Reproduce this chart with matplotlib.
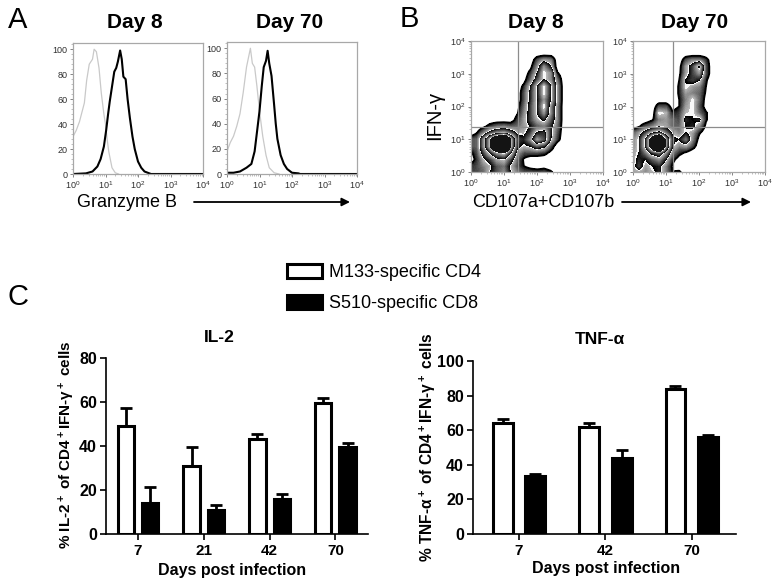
import numpy as np
import matplotlib
matplotlib.use('Agg')
import matplotlib.pyplot as plt
from matplotlib.ticker import MultipleLocator, LogLocator, NullFormatter

plt.rcParams['font.family'] = ['Liberation Sans', 'DejaVu Sans']
plt.rcParams['mathtext.default'] = 'regular'

W, H = 779, 587

# panel A, histograms: log10 of fluorescence and % of max
a8_dark_x = [0, 0.4, 0.6, 0.75, 0.85, 0.95, 1.02, 1.08, 1.13, 1.2, 1.27, 1.33, 1.38, 1.45, 1.5, 1.55, 1.62, 1.68, 1.75, 1.83, 1.9, 2.0, 2.1, 2.2, 2.4, 4]
a8_dark_y = [0, 0.5, 2, 6, 12, 22, 35, 48, 58, 70, 82, 85, 90, 99, 92, 78, 76, 60, 45, 30, 20, 10, 5, 2, 0, 0]
a8_grey_x = [0, 0.1, 0.2, 0.3, 0.35, 0.42, 0.5, 0.6, 0.65, 0.72, 0.8, 0.87, 0.95, 1.0, 1.05, 1.1, 1.2, 1.3, 1.4]
a8_grey_y = [30, 35, 42, 52, 57, 75, 88, 92, 100, 98, 85, 65, 48, 40, 28, 18, 5, 1, 0]
a70_dark_x = [0, 0.2, 0.4, 0.6, 0.75, 0.85, 0.93, 1.0, 1.07, 1.13, 1.2, 1.25, 1.3, 1.37, 1.45, 1.5, 1.55, 1.65, 1.75, 1.85, 2.0, 2.2, 2.25, 4]
a70_dark_y = [1, 1, 2, 5, 8, 18, 35, 50, 70, 85, 90, 98, 88, 78, 55, 40, 28, 15, 8, 4, 1, 0.5, 0, 0]
a70_grey_x = [0, 0.1, 0.2, 0.3, 0.4, 0.5, 0.6, 0.72, 0.78, 0.85, 0.92, 1.0, 1.1, 1.2, 1.3, 1.45, 1.6]
a70_grey_y = [18, 25, 30, 38, 48, 65, 85, 100, 88, 85, 70, 50, 30, 15, 5, 1, 0]

# panel B, density read by eye on a 0.2 decade grid, top row is log10 y = 3.6
grid_x = [0, .2, .4, .6, .8, 1, 1.2, 1.4, 1.6, 1.8, 2, 2.2, 2.4, 2.6, 2.8]
grid_y = [3.6, 3.4, 3.2, 3, 2.8, 2.6, 2.4, 2.2, 2, 1.8, 1.6, 1.4, 1.2, 1, .8, .6, .4, .2, 0]
b8_density = [
    [0, 0, 0, 0, 0, 0, 0, 0, 0, 0, 0, 0, 0, 0, 0],
    [0, 0, 0, 0, 0, 0, 0, 0, 0, 0, 1, 1.6, 1.4, 0, 0],
    [0, 0, 0, 0, 0, 0, 0, 0, 0, .3, 1.5, 3, 2, 0, 0],
    [0, 0, 0, 0, 0, 0, 0, 0, 0, .8, 2, 3.5, 3, .6, 0],
    [0, 0, 0, 0, 0, 0, 0, 0, .2, 1.2, 2.5, 3.5, 3, 1.2, 0],
    [0, 0, 0, 0, 0, 0, 0, 0, .7, 2, 3.5, 5, 3.5, 1.6, 0],
    [0, 0, 0, 0, 0, 0, 0, 0, 1, 2.2, 3.5, 5, 3.5, 1.6, 0],
    [0, 0, 0, 0, 0, 0, 0, 0, 1, 2.2, 3.5, 4.5, 3.5, 1.6, 0],
    [0, 0, 0, 0, 0, 0, 0, .2, 1.2, 2.4, 3.5, 5, 3, 1.4, 0],
    [0, 0, 0, 0, 0, 0, 0, .4, 1.4, 2.4, 3.5, 4.5, 3, 1.4, 0],
    [0, 0, 0, 0, 0, 0, 0, .8, 1.6, 2.4, 3.2, 3.6, 2.6, 1.4, 0],
    [0, 0, .3, .8, 1.2, 1.3, 1.1, 1.2, 1.6, 2, 2.6, 2.8, 2.2, 1.2, 0],
    [0, .5, 1.4, 2.4, 3, 3.2, 2.6, 1.8, 1.8, 2.4, 3.6, 3.8, 2.2, 1, 0],
    [1, 1.2, 3, 5, 7, 8.5, 5, 2.4, 2.2, 3, 4.6, 4, 2, .8, 0],
    [1, 1.2, 3, 5, 7.5, 9, 5, 2.2, 1.8, 2, 2.6, 2.2, 1, 0, 0],
    [.3, 1, 2.4, 3.6, 4.6, 5, 3.6, 1.6, 1, 1, 1, .8, .3, 0, 0],
    [0, .8, 1.8, 2.4, 3.2, 3.4, 2.4, 1.2, .4, 0, 0, 0, 0, 0, 0],
    [.7, 1, 1.4, 1.8, 2.6, 2.8, 1.8, 1, .5, .2, 0, .2, 0, 0, 0],
    [1, 1, 1.2, 2, 2.6, 3, 2, 1.4, 1, 1, 1, 1, .7, 0, 0],
]
b70_density = [
    [0, 0, 0, 0, 0, 0, 0, 0, 0, 0, 0, 0, 0, 0, 0],
    [0, 0, 0, 0, 0, 0, 0, 0, 1, 1.4, 1.4, .8, 0, 0, 0],
    [0, 0, 0, 0, 0, 0, 0, .2, 1.6, 2.4, 3.6, 1, 0, 0, 0],
    [0, 0, 0, 0, 0, 0, 0, .3, 1.6, 2.4, 3, 1, 0, 0, 0],
    [0, 0, 0, 0, 0, 0, 0, .5, 2, 2.4, 2, .6, 0, 0, 0],
    [0, 0, 0, 0, 0, 0, 0, .6, 2, 1.6, 1.4, .5, 0, 0, 0],
    [0, 0, 0, 0, 0, 0, 0, .6, 1.6, 1.4, 1.2, .4, 0, 0, 0],
    [0, 0, 0, 0, 0, 0, 0, .5, 1.4, 2, 1.2, .2, 0, 0, 0],
    [0, 0, 0, 0, 1, 1, .2, .5, 1.6, 2, 1, .2, 0, 0, 0],
    [0, 0, 0, 0, 2, 1.8, .6, .9, 1.8, 2, 1.2, .6, 0, 0, 0],
    [0, 0, 0, .4, 1.4, 1.6, 1.2, 1, 2.2, 2, 2.2, .6, 0, 0, 0],
    [0, .4, 1, 1.4, 1.8, 1.7, 1.2, 1.2, 2, 2.2, 1.4, .3, 0, 0, 0],
    [1, 1.6, 2.4, 3.4, 3.8, 2.8, 1.8, 1.4, 2, 1.6, .6, 0, 0, 0, 0],
    [1.4, 2, 3.6, 6, 8, 4.6, 2.2, 2, 2.8, 1.4, .2, 0, 0, 0, 0],
    [1.4, 2, 3.6, 6, 8.5, 4.6, 2, 1.4, 1.6, .9, 0, 0, 0, 0, 0],
    [1.6, 2, 2.8, 3.8, 4.2, 3, 1.4, .7, .4, 0, 0, 0, 0, 0, 0],
    [1.6, 2.2, 2, 2.6, 3, 2, .7, .2, 0, 0, 0, 0, 0, 0, 0],
    [1.6, 2.4, 1.6, 2, 2.2, 1.4, .4, 0, 0, 0, 0, 0, 0, 0, 0],
    [1.6, 1.6, 1.4, 1.8, 2.2, 1.4, .5, .7, 0, 0, 0, 0, 0, 0, 0],
]
b8_gate = [26, 24]
b70_gate = [16.4, 24]

# panel C
il2_days = ['7', '21', '42', '70']
il2_cd4 = [49, 31, 43, 59.5]
il2_cd4_err = [8.5, 8.5, 2.5, 2.5]
il2_cd8 = [14, 11, 16, 39.5]
il2_cd8_err = [7.5, 2, 2, 2]
tnf_days = ['7', '42', '70']
tnf_cd4 = [64, 62, 84]
tnf_cd4_err = [2.5, 2, 1.5]
tnf_cd8 = [33.5, 44, 56]
tnf_cd8_err = [1, 4.5, 1.5]


def px_axes(fig, x0, y0, x1, y1):
    # axes from pixel box, y counted from the top of the picture
    return fig.add_axes([x0 / W, 1 - y1 / H, (x1 - x0) / W, (y1 - y0) / H])


def px_text(fig, x, y, s, **kw):
    kw.setdefault('ha', 'center')
    kw.setdefault('va', 'center')
    fig.text(x / W, 1 - y / H, s, **kw)


def px_arrow(fig, x0, x1, y):
    fig.add_artist(matplotlib.patches.FancyArrowPatch(
        (x0 / W, 1 - y / H), (x1 / W, 1 - y / H), transform=fig.transFigure,
        arrowstyle='-|>', mutation_scale=12, lw=1.3, color='black', shrinkA=0, shrinkB=0))


def style_flow(ax):
    for s in ax.spines.values():
        s.set_color('#a8a8a8')
        s.set_linewidth(0.9)
    ax.set_xscale('log')
    ax.set_xlim(1, 1e4)
    ax.xaxis.set_major_locator(LogLocator(base=10, numticks=6))
    ax.xaxis.set_minor_locator(LogLocator(base=10, subs=range(2, 10), numticks=6))
    ax.xaxis.set_minor_formatter(NullFormatter())
    ax.tick_params(which='major', labelsize=6.5, length=2.5, width=0.6, color='#707070', labelcolor='#303030', pad=1.5)
    ax.tick_params(which='minor', length=1.2, width=0.4, color='#909090')


def histogram(fig, box, dark_x, dark_y, grey_x, grey_y):
    ax = px_axes(fig, *box)
    style_flow(ax)
    ax.set_ylim(0, 105)
    ax.yaxis.set_major_locator(MultipleLocator(20))
    ax.yaxis.set_minor_locator(MultipleLocator(4))
    ax.plot(10 ** np.array(grey_x), grey_y, color='#c9c9c9', lw=0.9)
    ax.plot(10 ** np.array(dark_x), dark_y, color='black', lw=1.5)


def soften(density, n=5):
    # only rounds the corners of the hand read grid for drawing
    d = np.kron(np.array(density), np.ones((n, n)))
    kernel = np.ones(n) / n
    for axis in (0, 1):
        d = np.apply_along_axis(lambda r: np.convolve(np.pad(r, n, mode='edge'), kernel, mode='same')[n:-n], axis, d)
    return d


def zebra(fig, box, density, gate):
    ax = px_axes(fig, *box)
    style_flow(ax)
    ax.set_yscale('log')
    ax.set_ylim(1, 1e4)
    ax.yaxis.set_major_locator(LogLocator(base=10, numticks=6))
    ax.yaxis.set_minor_locator(LogLocator(base=10, subs=range(2, 10), numticks=6))
    ax.yaxis.set_minor_formatter(NullFormatter())
    d = soften(density)
    xs = 10 ** np.linspace(grid_x[0] - 0.1, grid_x[-1] + 0.1, d.shape[1])
    ys = 10 ** np.linspace(grid_y[0] + 0.1, grid_y[-1] - 0.1, d.shape[0])
    levels = np.arange(0.5, 9.2, 0.06)
    # every band goes from black up to light grey, then drops back to black
    band = ((levels[:-1] - 0.5) % 1.5) / 1.5
    shade = 0.8 * band ** 0.9
    shade[band > 0.9] = 0.97
    shade[levels[:-1] > 5.0] = 0.08
    colors = [(v, v, v) for v in shade]
    ax.contourf(xs, ys, d, levels=levels, colors=colors)
    ax.contour(xs, ys, d, levels=[0.5], colors='black', linewidths=1.3)
    ax.axvline(gate[0], color='#8c8c8c', lw=0.9)
    ax.axhline(gate[1], color='#8c8c8c', lw=0.9)


def bars(fig, box, ymax, labels, cd4, cd4_err, cd8, cd8_err, xlim, width, offset):
    ax = px_axes(fig, *box)
    pos = np.arange(len(labels))
    err_kw = dict(ecolor='black', elinewidth=2, capsize=4.5, capthick=2)
    zeros = [0] * len(labels)
    ax.bar(pos - offset, cd4, width, color='white', edgecolor='black', linewidth=2.2,
           yerr=[zeros, cd4_err], error_kw=err_kw, label='M133-specific CD4')
    ax.bar(pos + offset, cd8, width, color='black', edgecolor='black', linewidth=2.2,
           yerr=[zeros, cd8_err], error_kw=err_kw, label='S510-specific CD8')
    ax.set_xlim(*xlim)
    ax.set_ylim(0, ymax)
    ax.set_xticks(pos)
    ax.set_xticklabels(labels)
    ax.yaxis.set_major_locator(MultipleLocator(20))
    ax.spines['top'].set_visible(False)
    ax.spines['right'].set_visible(False)
    ax.spines['left'].set_linewidth(1.2)
    ax.spines['bottom'].set_linewidth(1.2)
    ax.tick_params(axis='y', length=4.5, width=1.2, labelsize=11.5, pad=2)
    ax.tick_params(axis='x', length=4.5, width=1.2, labelsize=11, pad=3)
    for t in ax.get_xticklabels() + ax.get_yticklabels():
        t.set_fontweight('bold')
    return ax


fig = plt.figure(figsize=(W / 100, H / 100), dpi=100)

histogram(fig, (73, 43, 203, 174), a8_dark_x, a8_dark_y, a8_grey_x, a8_grey_y)
histogram(fig, (227, 42, 357, 174), a70_dark_x, a70_dark_y, a70_grey_x, a70_grey_y)
zebra(fig, (471, 41, 603, 172), b8_density, b8_gate)
zebra(fig, (633, 41, 765, 172), b70_density, b70_gate)

ax_il2 = bars(fig, (106, 358, 368, 534), 80, il2_days, il2_cd4, il2_cd4_err, il2_cd8, il2_cd8_err,
              (-0.486, 3.495), 0.25, 0.185)
ax_tnf = bars(fig, (473, 361, 736, 534), 100, tnf_days, tnf_cd4, tnf_cd4_err, tnf_cd8, tnf_cd8_err,
              (-0.532, 2.51), 0.23, 0.19)

# panel letters and titles
px_text(fig, 18, 20, 'A', fontsize=21)
px_text(fig, 409, 19, 'B', fontsize=21)
px_text(fig, 18, 297, 'C', fontsize=21)
for x, s in [(135, 'Day 8'), (290, 'Day 70'), (536, 'Day 8'), (695, 'Day 70')]:
    px_text(fig, x, 23, s, fontsize=15, fontweight='bold')

px_text(fig, 127, 203, 'Granzyme B', fontsize=13)
px_text(fig, 543, 203, 'CD107a+CD107b', fontsize=13)
px_text(fig, 435, 115, 'IFN-γ', fontsize=14.5, rotation=90)
px_arrow(fig, 194, 350, 202)
px_arrow(fig, 622, 751, 202)

px_text(fig, 219, 337, 'IL-2', fontsize=12.5, fontweight='bold')
px_text(fig, 600, 339, 'TNF-α', fontsize=12.5, fontweight='bold')
px_text(fig, 232, 571, 'Days post infection', fontsize=11.5, fontweight='bold')
px_text(fig, 606, 569, 'Days post infection', fontsize=11.5, fontweight='bold')
px_text(fig, 67, 445, '% IL-2$^+$ of CD4$^+$IFN-γ$^+$ cells', fontsize=11, fontweight='bold', rotation=90)
px_text(fig, 428, 447, '% TNF-α$^+$ of CD4$^+$IFN-γ$^+$ cells', fontsize=11.2, fontweight='bold', rotation=90)

handles, labels = ax_il2.get_legend_handles_labels()
fig.legend(handles, labels, loc='center left', bbox_to_anchor=(287 / W, 1 - 288 / H), frameon=False,
           fontsize=13, handlelength=1.95, handleheight=0.85, labelspacing=0.75, handletextpad=0.4,
           borderpad=0, borderaxespad=0)

fig.savefig('out.png', dpi=100)
